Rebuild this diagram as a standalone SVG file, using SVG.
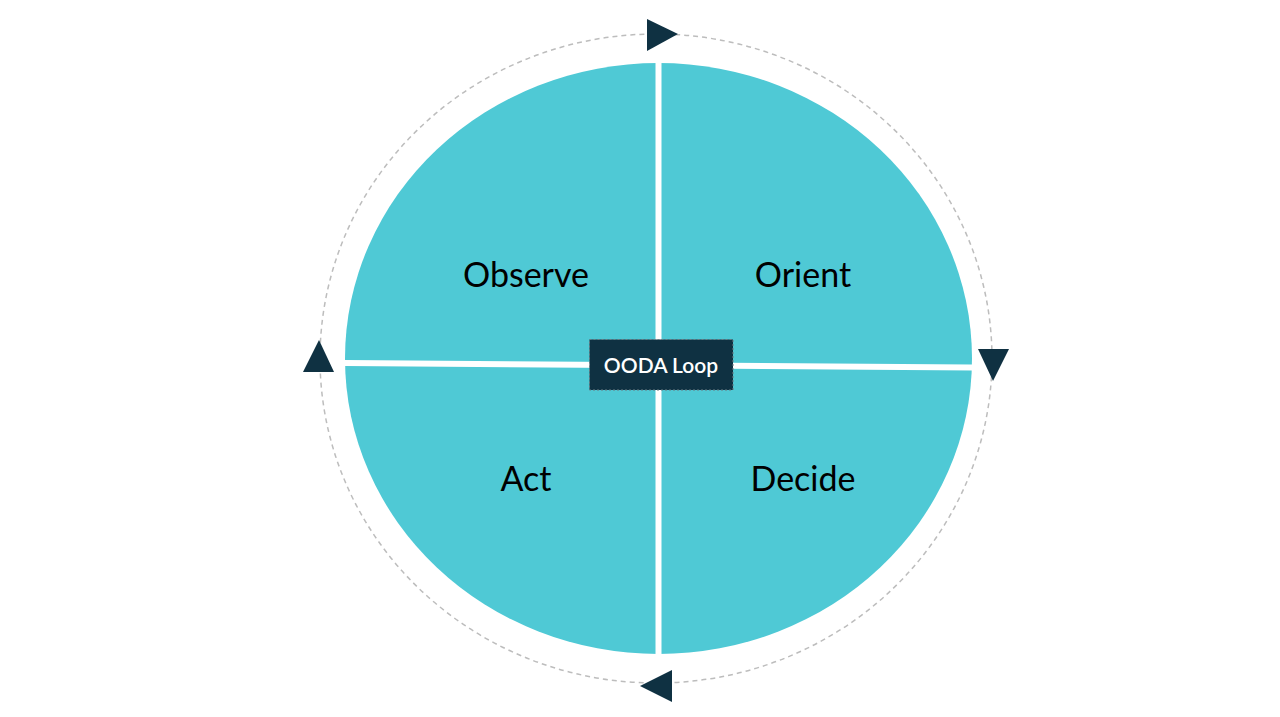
<svg xmlns="http://www.w3.org/2000/svg" width="1280" height="717" viewBox="0 0 1280 717">
  <style>
    .quad { fill: #4fc9d5; }
    .lbl { font-family: Lato, "Open Sans", "Liberation Sans", sans-serif; font-size: 34px; fill: #000; text-anchor: middle; }
    .center-lbl { font-family: Lato, "Open Sans", "Liberation Sans", sans-serif; font-size: 21px; fill: #fff; text-anchor: middle; font-weight: 600; }
    .loop { fill: none; stroke: #bdbdbd; stroke-width: 1.5; stroke-dasharray: 5 4; }
    .head { fill: #0f3142; }
  </style>
  <defs>
    <clipPath id="oval">
      <ellipse cx="658.5" cy="358.5" rx="313.5" ry="295.5"/>
    </clipPath>
  </defs>
  <rect width="1280" height="717" fill="#fff"/>

  <g id="connectors">
    <ellipse class="loop" cx="656" cy="358.5" rx="336" ry="324.5"/>
    <polygon class="head" points="647,19 647,51 678,34"/>
    <polygon class="head" points="978,349 1009,349 993,381"/>
    <polygon class="head" points="672,670 672,702 640,686"/>
    <polygon class="head" points="319,340 303,372 334,372"/>
  </g>

  <g id="observe">
    <polygon class="quad" clip-path="url(#oval)" points="330,40 655.5,40 655.5,362.2 330,360"/>
    <text class="lbl" x="526" y="287">Observe</text>
  </g>
  <g id="orient">
    <polygon class="quad" clip-path="url(#oval)" points="661.5,40 990,40 990,364.6 661.5,362.3"/>
    <text class="lbl" x="803" y="287">Orient</text>
  </g>
  <g id="decide">
    <polygon class="quad" clip-path="url(#oval)" points="661.5,368.3 990,370.6 990,680 661.5,680"/>
    <text class="lbl" x="803" y="491">Decide</text>
  </g>
  <g id="act">
    <polygon class="quad" clip-path="url(#oval)" points="330,366 655.5,368.2 655.5,680 330,680"/>
    <text class="lbl" x="526" y="491">Act</text>
  </g>

  <g id="ooda-loop">
    <rect x="589.5" y="339.5" width="143.5" height="50.5" fill="#0f3142" stroke="#6b7a82" stroke-width="1" stroke-dasharray="2 2"/>
    <text class="center-lbl" x="661" y="373">OODA Loop</text>
  </g>
</svg>
